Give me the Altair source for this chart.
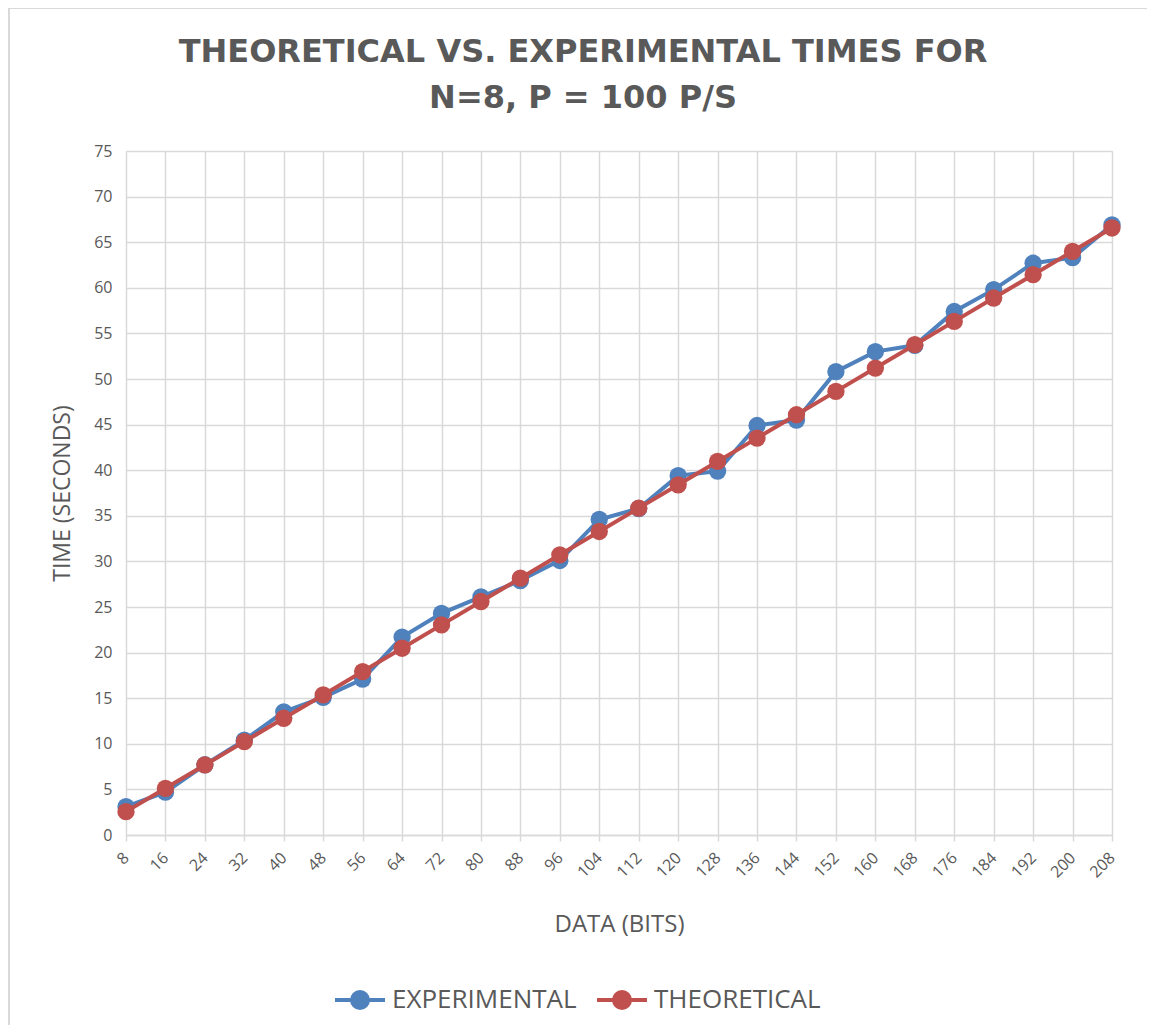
import altair as alt
import pandas as pd

bits = [8, 16, 24, 32, 40, 48, 56, 64, 72, 80, 88, 96, 104, 112, 120, 128,
        136, 144, 152, 160, 168, 176, 184, 192, 200, 208]
experimental = [3.1, 4.7, 7.7, 10.4, 13.5, 15.1, 17.1, 21.7, 24.3, 26.1, 27.9,
                30.1, 34.6, 35.8, 39.4, 39.9, 44.9, 45.5, 50.8, 53.0, 53.7,
                57.4, 59.8, 62.7, 63.3, 66.9]
theoretical = [2.56, 5.12, 7.68, 10.24, 12.8, 15.36, 17.92, 20.48, 23.04, 25.6,
               28.16, 30.72, 33.28, 35.84, 38.4, 40.96, 43.52, 46.08, 48.64,
               51.2, 53.76, 56.32, 58.88, 61.44, 64.0, 66.56]
series_names = ["EXPERIMENTAL", "THEORETICAL"]
series_colors = ["#4F81BD", "#C0504D"]
y_ticks = list(range(0, 80, 5))

rows = []
for name, vals in zip(series_names, [experimental, theoretical]):
    for b, v in zip(bits, vals):
        rows.append({"bits": b, "time": v, "series": name})
df = pd.DataFrame(rows)

FONT = "Open Sans"
GRAY = "#595959"
GRID = "#D9D9D9"

x = alt.X("bits:Q",
          scale=alt.Scale(domain=[8, 208], nice=False, zero=False),
          axis=alt.Axis(values=bits, title="DATA (BITS)", labelAngle=-45,
                        labelAlign="right", labelBaseline="middle",
                        labelPadding=14, labelFontSize=16, labelColor=GRAY,
                        labelFont=FONT, titleFont=FONT, titleFontSize=24,
                        titleColor=GRAY, titleFontWeight="normal",
                        titlePadding=32, grid=True, gridColor=GRID,
                        gridWidth=1.5, domainColor=GRID, domainWidth=1.5,
                        tickColor=GRID, tickSize=6, tickWidth=1.5))
y = alt.Y("time:Q",
          scale=alt.Scale(domain=[0, 75], nice=False),
          axis=alt.Axis(values=y_ticks, title="TIME (SECONDS)",
                        labelFontSize=16, labelColor=GRAY, labelFont=FONT,
                        labelPadding=14, titleFont=FONT, titleFontSize=23,
                        titleColor=GRAY, titleFontWeight="normal",
                        titlePadding=19, grid=True, gridColor=GRID,
                        gridWidth=1.5, domain=False, ticks=False))

sym = "M-1,0L1,0M-0.32,0A0.32,0.32,0,1,1,0.32,0A0.32,0.32,0,1,1,-0.32,0Z"
legend = alt.Legend(title=None, orient="none", direction="horizontal",
                    legendX=207, legendY=822, symbolType=sym, symbolSize=2500,
                    symbolStrokeWidth=4, labelFontSize=26, labelColor=GRAY,
                    labelFont=FONT, labelLimit=400, columnPadding=12,
                    labelOffset=5)

scale = alt.Scale(domain=series_names, range=series_colors)

layers = []
for name in series_names:
    base = alt.Chart(df).transform_filter(alt.datum.series == name)
    line = base.mark_line(strokeWidth=4).encode(
        x=x, y=y, stroke=alt.Stroke("series:N", scale=scale, legend=legend))
    pts = base.mark_point(filled=True, size=300, opacity=1).encode(
        x=x, y=y, fill=alt.Fill("series:N", scale=scale, legend=legend))
    layers += [line, pts]

# outer chart border (top and left edges, as in the reference frame)
border_top = alt.Chart(df).mark_rule(color=GRID, strokeWidth=2).encode(
    x=alt.value(-118), x2=alt.value(1040), y=alt.value(-143))
border_left = alt.Chart(df).mark_rule(color=GRID, strokeWidth=2).encode(
    x=alt.value(-117), y=alt.value(-143), y2=alt.value(900))

chart = alt.layer(border_top, border_left, *layers).properties(
    width=986, height=684,
    autosize=alt.AutoSizeParams(type="none"),
    padding={"left": 118, "top": 143, "right": 35, "bottom": 190},
    title=alt.TitleParams(
        ["THEORETICAL VS. EXPERIMENTAL TIMES FOR", "N=8, P = 100 P/S"],
        font="DejaVu Sans", fontSize=32, fontWeight="bold", color=GRAY,
        anchor="middle", dx=-36, dy=136, offset=28, lineHeight=46),
).configure_view(stroke=None).configure(background="white")

chart.save("out.html", embed_options={"renderer": "svg", "actions": False})
